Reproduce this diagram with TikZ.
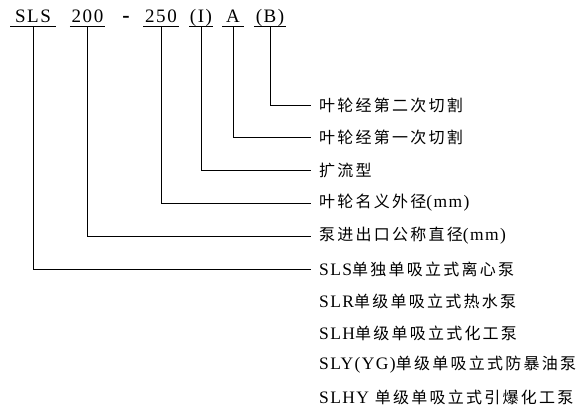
\documentclass[tikz,border=0pt]{standalone}
\usepackage{fontspec}
\setmainfont[LetterSpace=8]{Liberation Serif}
\newfontfamily\cjk[LetterSpace=14]{Noto Sans CJK SC}
\newcommand\zh[1]{{\fontsize{16}{19}\selectfont\cjk #1}}
\usetikzlibrary{positioning}

\begin{document}
\begin{tikzpicture}[x=1pt,y=-1pt,
    code/.style={font=\fontsize{19}{22}\selectfont,anchor=south,inner xsep=0pt,inner ysep=3pt,text depth=0pt},
    lbl/.style={font=\fontsize{17.5}{20}\selectfont,anchor=west,inner xsep=8pt,inner ysep=0pt},
    lead/.style={line width=0.9pt}]
    \useasboundingbox (0,0) rectangle (584,415);
    % model code
    \node[code,minimum width=45] (sls)  at (33,26)    {SLS};
    \node[code,minimum width=35] (n200) at (87.5,26)  {200};
    \node[code,font=\fontsize{22}{24}\bfseries] (dash) at (126,26) {-};
    \node[code,minimum width=35] (n250) at (161,26)   {250};
    \node[code,minimum width=23] (nI)   at (201,26)   {(I)};
    \node[code,minimum width=21] (nA)   at (233,26)   {A};
    \node[code,minimum width=32] (nB)   at (270,26)   {(B)};
    \foreach \n in {sls,n200,n250,nI,nA,nB}
      \draw[lead] (\n.south west) -- (\n.south east);
    % meanings
    \node[lbl] (lB)    at (311,105) {\zh{叶轮经第二次切割}};
    \node[lbl] (lA)    at (311,137) {\zh{叶轮经第一次切割}};
    \node[lbl] (lI)    at (311,170) {\zh{扩流型}};
    \node[lbl] (l250)  at (311,203) {\zh{叶轮名义外径}(mm)};
    \node[lbl] (l200)  at (311,236) {\zh{泵进出口公称直径}(mm)};
    \node[lbl] (lSLS)  at (311,269) {SLS\zh{单独单吸立式离心泵}};
    \node[lbl] (lSLR)  at (311,301) {SLR\zh{单级单吸立式热水泵}};
    \node[lbl] (lSLH)  at (311,333) {SLH\zh{单级单吸立式化工泵}};
    \node[lbl] (lSLY)  at (311,365) {SLY(YG)\zh{单级单吸立式防暴油泵}};
    \node[lbl] (lSLHY) at (311,397) {SLHY \zh{单级单吸立式引爆化工泵}};
    % leaders
    \draw[lead] (nB.south)   |- (lB.west);
    \draw[lead] (nA.south)   |- (lA.west);
    \draw[lead] (nI.south)   |- (lI.west);
    \draw[lead] (n250.south) |- (l250.west);
    \draw[lead] (n200.south) |- (l200.west);
    \draw[lead] (sls.south)  |- (lSLS.west);
\end{tikzpicture}
\end{document}
